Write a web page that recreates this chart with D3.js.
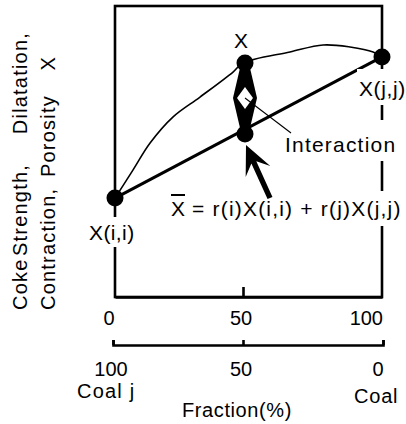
<!DOCTYPE html>
<html><head><meta charset="utf-8">
<script src="https://cdn.jsdelivr.net/npm/d3@7"></script>
<style>
body{margin:0;background:#fff}
text{font-family:"Liberation Sans",Arial,Helvetica,sans-serif;fill:#000}
</style>
</head><body>
<svg id="c" width="406" height="424"></svg>
<script>
// ---- data ----
const fractionTicks = [0, 50, 100];          // fraction of coal i (%)
const coalJTicks = [100, 50, 0];             // fraction of coal j (%)
const endpointFractions = [0, 100];
const endpointValues = [34.0, 82.5];         // X(i,i), X(j,j)
const blendFraction = 50;
const blendActual = 80.4;                    // measured X of 50/50 blend
const blendAdditive = 56.0;                  // additive (weighted mean) X
const curveFractions = [0, 7.0, 13.7, 22.7, 33.2, 46.1, 50, 66.9, 78.8, 88.5, 96.8, 100];
const curveValues    = [34.0, 43.6, 52.9, 61.9, 68.7, 77.3, 80.4, 84.2, 86.6, 85.9, 84.2, 82.5];
const yTitleLine1 = ["Coke", "Strength,", "Dilatation,"];
const yTitleLine2 = ["Contraction,", "Porosity", "X"];

const svg = d3.select("#c");
const FS = 21;

const x = d3.scaleLinear().domain([0, 50, 100]).range([115, 243, 382]);
const x2 = d3.scaleLinear().domain([100, 50, 0]).range([113, 243, 383]);
const y = d3.scaleLinear().domain([0, 100]).range([297, 6]);

// frame
svg.append("rect")
  .attr("x", x(0)).attr("y", y(100))
  .attr("width", x(100) - x(0)).attr("height", y(0) - y(100))
  .attr("fill", "none").attr("stroke", "#000").attr("stroke-width", 2.6);

// inner tick at 50
const ax1 = svg.append("g").attr("transform", `translate(0,${y(0)})`)
  .call(d3.axisTop(x).tickValues([50]).tickSizeInner(10).tickSizeOuter(0).tickFormat(""));
ax1.selectAll("path,line").attr("stroke", "#000").attr("stroke-width", 2.6);

// second axis (coal j)
const ax2 = svg.append("g").attr("transform", "translate(0,345)")
  .call(d3.axisTop(x2).tickValues(coalJTicks).tickSizeInner(5).tickSizeOuter(5).tickFormat(""));
ax2.selectAll("path,line").attr("stroke", "#000").attr("stroke-width", 2.6);

// tick labels row 1
svg.selectAll(".t1").data(fractionTicks).join("text")
  .attr("x", d => d === 100 ? x(d) + 1 : x(d) - (d === 0 ? 6 : 2))
  .attr("y", 325)
  .attr("text-anchor", d => d === 100 ? "end" : "middle")
  .attr("font-size", 20).text(d => d);

// tick labels row 2
svg.selectAll(".t2").data(coalJTicks).join("text")
  .attr("x", d => x2(d) + (d === 0 ? -5 : -2))
  .attr("y", 376)
  .attr("text-anchor", "middle")
  .attr("font-size", 20).text(d => d);

svg.append("text").attr("x", 77).attr("y", 398).attr("font-size", 20)
  .attr("letter-spacing", 1.2).text("Coal j");
svg.append("text").attr("x", 354).attr("y", 403).attr("font-size", 20)
  .attr("letter-spacing", 0.8).text("Coal");
svg.append("text").attr("x", 182).attr("y", 417).attr("font-size", 20)
  .attr("letter-spacing", 0.6).text("Fraction(%)");

// y title (rotated words): [position along axis, anchor]
const l1Pos = [[310, "start"], [256, "start"], [32, "end"]];
const l2Pos = [[310, "start"], [177, "start"], [56, "end"]];
function yWords(words, pos, bx) {
  words.forEach((w, i) => {
    svg.append("text")
      .attr("transform", `translate(${bx},${pos[i][0]}) rotate(-90)`)
      .attr("font-size", 20)
      .attr("letter-spacing", 1.2)
      .attr("text-anchor", pos[i][1])
      .text(w);
  });
}
yWords(yTitleLine1, l1Pos, 27);
yWords(yTitleLine2, l2Pos, 55);

// curve (measured blend behaviour)
const pts = curveFractions.map((f, i) => [f, curveValues[i]]);
svg.append("path").datum(pts)
  .attr("d", d3.line().x(d => x(d[0])).y(d => y(d[1])).curve(d3.curveCatmullRom.alpha(0.5)))
  .attr("fill", "none").attr("stroke", "#000").attr("stroke-width", 1.6);

// additive straight line
svg.append("path").datum(endpointFractions.map((f, i) => [f, endpointValues[i]]))
  .attr("d", d3.line().x(d => x(d[0])).y(d => y(d[1])))
  .attr("fill", "none").attr("stroke", "#000").attr("stroke-width", 3);

// labels with white backgrounds
function label(txt, xx, yy, opts) {
  const g = svg.append("g");
  const r = g.append("rect").attr("fill", "#fff");
  const t = g.append("text").attr("x", xx).attr("y", yy).attr("font-size", FS).text(txt);
  if (opts.ls) t.attr("letter-spacing", opts.ls);
  if (opts.anchor) t.attr("text-anchor", opts.anchor);
  const b = t.node().getBBox();
  const p = opts.pad || [0, 0, 0, 0]; // top right bottom left
  r.attr("x", b.x - p[3]).attr("y", b.y - p[0])
   .attr("width", b.width + p[1] + p[3]).attr("height", b.height + p[0] + p[2]);
  return t;
}
label("X(i,i)", 89, 240, {ls: 0.4, pad: [4, 2, 3, 2]});
label("X(j,j)", 359, 96, {ls: 0.6, pad: [8, 2, 5, 2]});
label("Interaction", 285, 152, {ls: 1.2, pad: [13, 2, 5, 2]});
label("X", 241, 48, {anchor: "middle"});

// formula
const fg = svg.append("g");
const fbg = fg.append("rect").attr("fill", "#fff");
const fx = fg.append("text").attr("x", 171).attr("y", 216).attr("font-size", FS).text("X");
const fr = fg.append("text").attr("x", 192).attr("y", 216).attr("font-size", FS)
  .attr("letter-spacing", 1.2)
  .text("= r(i)X(i,i) + r(j)X(j,j)");
const bx = fx.node().getBBox();
const br = fr.node().getBBox();
fg.append("line").attr("x1", bx.x).attr("x2", bx.x + bx.width)
  .attr("y1", 195).attr("y2", 195).attr("stroke", "#000").attr("stroke-width", 2);
fbg.attr("x", bx.x - 2).attr("y", 191).attr("width", br.x + br.width - bx.x + 4)
  .attr("height", br.y + br.height - 191 + 6);

// dots
const dots = endpointFractions.map((f, i) => [f, endpointValues[i]])
  .concat([[blendFraction, blendActual], [blendFraction, blendAdditive]]);
svg.selectAll(".dot").data(dots).join("circle")
  .attr("cx", d => x(d[0]) + (d[0] === 50 ? 2 : 0)).attr("cy", d => y(d[1]))
  .attr("r", 8.5).attr("fill", "#000");

// interaction double arrow
const cx = x(blendFraction) + 2;
const yT = y(blendActual) + 5, yB = y(blendAdditive) - 6, ym = (yT + yB) / 2;
svg.append("path")
  .attr("d", `M${cx-5},${yT}L${cx+5},${yT}L${cx+12},${ym}L${cx+5},${yB}L${cx-5},${yB}L${cx-12},${ym}Z`)
  .attr("fill", "#000");
svg.append("path")
  .attr("d", `M${cx},${ym-11}L${cx+8},${ym}L${cx},${ym+11}L${cx-8},${ym}Z`)
  .attr("fill", "#fff");
// leader line
svg.append("line").attr("x1", cx).attr("y1", ym).attr("x2", 291).attr("y2", 133)
  .attr("stroke", "#000").attr("stroke-width", 1.1);

// big arrow pointing to additive point
const tip = [cx + 1, y(blendAdditive) + 11];
const tail = [270, 198];
const dx = tip[0] - tail[0], dy = tip[1] - tail[1], L = Math.hypot(dx, dy);
const u = [dx / L, dy / L], n = [-u[1], u[0]];
const P = (a, b) => [tip[0] - u[0] * a + n[0] * b, tip[1] - u[1] * a + n[1] * b];
const arrowPts = [tip, P(29, 13.5), P(19, 2.7), [tail[0] + n[0] * 2.7, tail[1] + n[1] * 2.7],
  [tail[0] - n[0] * 2.7, tail[1] - n[1] * 2.7], P(19, -2.7), P(29, -13.5)];
svg.append("path").attr("d", "M" + arrowPts.map(p => p.join(",")).join("L") + "Z")
  .attr("fill", "#000");
</script>
</body></html>
